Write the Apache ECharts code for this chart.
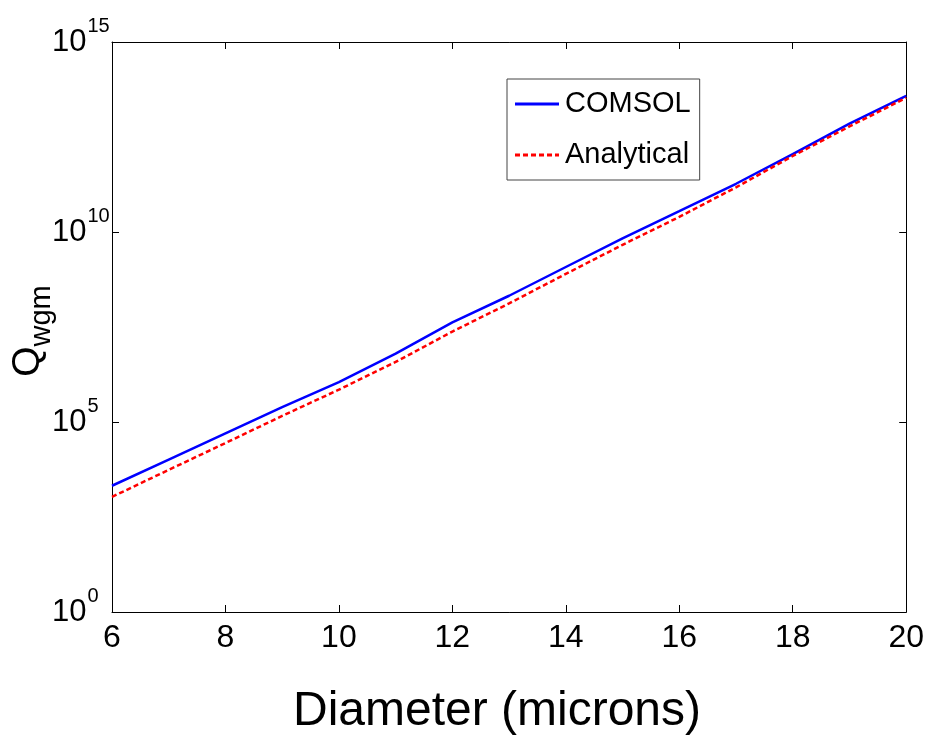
<!DOCTYPE html>
<html>
<head>
<meta charset="utf-8">
<script src="https://cdn.jsdelivr.net/npm/echarts@6/dist/echarts.min.js"></script>
<style>
html,body{margin:0;padding:0;background:#fff;}
#chart{width:927px;height:736px;}
</style>
</head>
<body>
<div id="chart"></div>
<script>
const diameters = [6, 7, 8, 9, 10, 11, 12, 13, 14, 15, 16, 17, 18, 19, 20];
const comsol = [2.1e3, 1.02e4, 5.0e4, 2.45e5, 1.12e6, 6.3e6, 4.2e7, 2.1e8, 1.2e9, 6.8e9, 3.55e10, 1.86e11, 1.12e12, 7.1e12, 3.8e13];
const analytical = [1.07e3, 5.5e3, 2.8e4, 1.45e5, 7.1e5, 3.8e6, 2.4e7, 1.32e8, 7.9e8, 4.6e9, 2.5e10, 1.5e11, 1.0e12, 6.0e12, 3.4e13];
const seriesNames = ['COMSOL', 'Analytical'];
const xTitle = 'Diameter (microns)';

const sans = "'Liberation Sans', Arial, sans-serif";

const chart = echarts.init(document.getElementById('chart'), null, {renderer: 'canvas'});

const pair = (xs, ys) => xs.map((x, i) => [x, ys[i]]);

const yLabelFmt = v => '{b|10}{s|' + Math.round(Math.log10(v)) + '}';

const solidIcon = 'path://M0,0h44v3h-44z';
const dashIcon = 'path://M0,0h5v3h-5z M8,0h5v3h-5z M16,0h5v3h-5z M24,0h5v3h-5z M32,0h5v3h-5z M40,0h4v3h-4z';

chart.setOption({
  animation: false,
  backgroundColor: '#fff',
  grid: {left: 112, right: 20, top: 42, bottom: 124, show: false},
  xAxis: [{
    type: 'value', min: 6, max: 20, interval: 2, position: 'bottom',
    axisLine: {show: true, lineStyle: {color: '#000', width: 1}},
    axisTick: {show: true, inside: true, length: 7, lineStyle: {color: '#000'}},
    axisLabel: {fontFamily: sans, fontSize: 32, color: '#000', margin: 10},
    splitLine: {show: false}
  }, {
    type: 'value', min: 6, max: 20, interval: 2, position: 'top',
    axisLine: {show: true, lineStyle: {color: '#000', width: 1}},
    axisTick: {show: true, inside: true, length: 7, lineStyle: {color: '#000'}},
    axisLabel: {show: false},
    splitLine: {show: false}
  }],
  yAxis: [{
    type: 'log', logBase: 10, min: 1, max: 1e15, interval: 5, position: 'left',
    axisLine: {show: true, lineStyle: {color: '#000', width: 1}},
    axisTick: {show: true, inside: true, length: 7, lineStyle: {color: '#000'}},
    minorTick: {show: false},
    axisLabel: {
      formatter: yLabelFmt, align: 'left', margin: 60, color: '#000',
      rich: {
        b: {fontFamily: sans, fontSize: 31, lineHeight: 52, color: '#000'},
        s: {fontFamily: sans, fontSize: 20, lineHeight: 22, verticalAlign: 'top', color: '#000', padding: [0, 0, 0, 1]}
      }
    },
    splitLine: {show: false}
  }, {
    type: 'log', logBase: 10, min: 1, max: 1e15, interval: 5, position: 'right',
    axisLine: {show: true, lineStyle: {color: '#000', width: 1}},
    axisTick: {show: true, inside: true, length: 7, lineStyle: {color: '#000'}},
    axisLabel: {show: false},
    splitLine: {show: false}
  }],
  legend: {
    orient: 'vertical', left: 507, top: 79,
    backgroundColor: '#fff',
    borderColor: '#444', borderWidth: 1,
    padding: [10, 9, 10, 8],
    itemGap: 21, itemWidth: 44, itemHeight: 3,
    textStyle: {fontFamily: sans, fontSize: 29, lineHeight: 30, color: '#000', padding: [0, 0, 0, 1]},
    data: [
      {name: seriesNames[0], icon: solidIcon, itemStyle: {color: '#0000ff'}},
      {name: seriesNames[1], icon: dashIcon, itemStyle: {color: '#ff0000'}}
    ]
  },
  series: [{
    name: seriesNames[0], type: 'line', data: pair(diameters, comsol),
    showSymbol: false, symbol: 'none', smooth: false,
    lineStyle: {color: '#0000ff', width: 2.5, type: 'solid'},
    itemStyle: {color: '#0000ff'},
    z: 3
  }, {
    name: seriesNames[1], type: 'line', data: pair(diameters, analytical),
    showSymbol: false, symbol: 'none', smooth: false,
    lineStyle: {color: '#ff0000', width: 2.5, type: [5, 3]},
    itemStyle: {color: '#ff0000'},
    z: 4
  }],
  graphic: [{
    type: 'text', x: 497, y: 712,
    style: {text: xTitle, font: "48px " + sans, fill: '#000', align: 'center', verticalAlign: 'middle'}
  }, {
    type: 'text', x: 28, y: 331, rotation: Math.PI / 2,
    style: {
      text: '{q|Q}{s|wgm}', align: 'center', verticalAlign: 'middle',
      rich: {
        q: {fontFamily: sans, fontSize: 39, lineHeight: 56, fill: '#000'},
        s: {fontFamily: sans, fontSize: 29, lineHeight: 29, verticalAlign: 'bottom', fill: '#000'}
      }
    }
  }]
});
</script>
</body>
</html>
